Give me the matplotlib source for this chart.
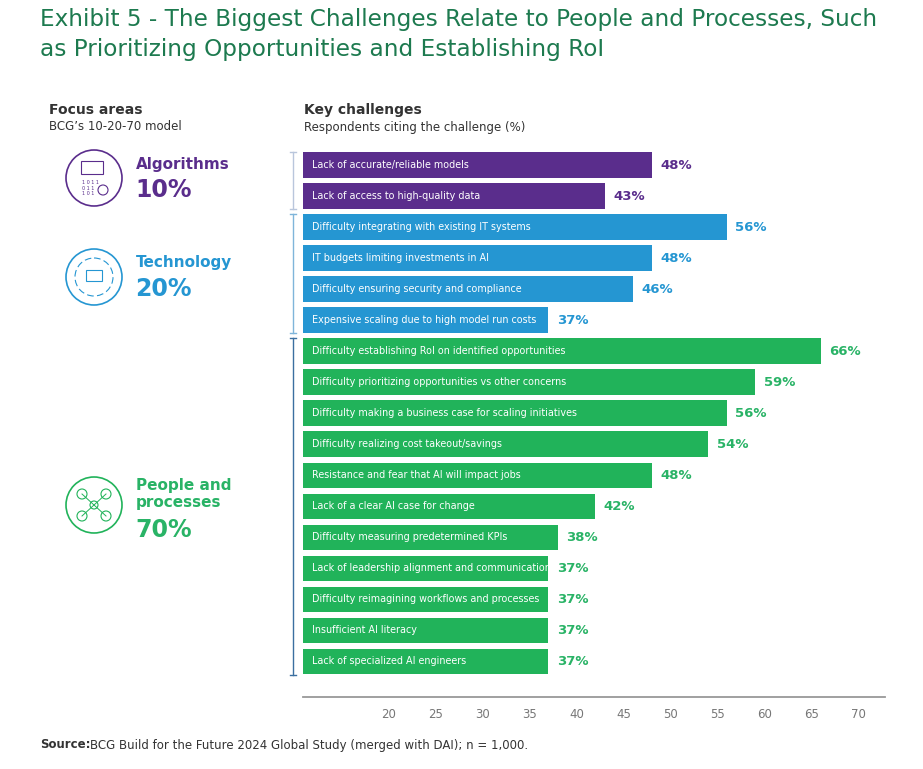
import matplotlib
matplotlib.use("Agg")
import matplotlib.pyplot as plt
from matplotlib.patches import Circle, Rectangle

labels = [
    "Lack of accurate/reliable models", "Lack of access to high-quality data",
    "Difficulty integrating with existing IT systems", "IT budgets limiting investments in AI",
    "Difficulty ensuring security and compliance", "Expensive scaling due to high model run costs",
    "Difficulty establishing RoI on identified opportunities",
    "Difficulty prioritizing opportunities vs other concerns",
    "Difficulty making a business case for scaling initiatives",
    "Difficulty realizing cost takeout/savings",
    "Resistance and fear that AI will impact jobs", "Lack of a clear AI case for change",
    "Difficulty measuring predetermined KPIs",
    "Lack of leadership alignment and communications",
    "Difficulty reimagining workflows and processes", "Insufficient AI literacy",
    "Lack of specialized AI engineers",
]
values = [48, 43, 56, 48, 46, 37, 66, 59, 56, 54, 48, 42, 38, 37, 37, 37, 37]
groups = [0] * 2 + [1] * 4 + [2] * 11
group_names = ["Algorithms", "Technology", "People and\nprocesses"]
group_share = ["10%", "20%", "70%"]

PURPLE, BLUE, GREEN = "#5a2d8c", "#2596d2", "#21b35a"
TXT = ["#5a2d8c", "#2596d2", "#29b366"]
BAR = [PURPLE, BLUE, GREEN]
INK = "#333333"
W, H = 923, 769
XMIN, XMAX = 10.95, 72.8

fig = plt.figure(figsize=(9.23, 7.69), dpi=100)
ax = fig.add_axes([303 / W, 1 - 697 / H, (885 - 303) / W, (697 - 148) / H])

n = len(values)
for i, (lab, v, g) in enumerate(zip(labels, values, groups)):
    ax.barh(i, v - XMIN, left=XMIN, height=0.82, color=BAR[g])
    ax.text(XMIN + 0.95, i, lab, color="white", va="center", ha="left", fontsize=6.9)
    ax.text(v + 0.9, i, f"{v}%", color=TXT[g], va="center", ha="left",
            fontsize=9.5, fontweight="bold")
ax.set_ylim(n + 0.15, -0.55)
ax.set_xlim(XMIN, XMAX)
ax.set_xticks(range(20, 71, 5))
ax.tick_params(axis="x", length=0, colors="#777777", labelsize=8.5, pad=8)
ax.set_yticks([])
for s in ["top", "right", "left"]:
    ax.spines[s].set_visible(False)
ax.spines["bottom"].set_color("#999999")
ax.spines["bottom"].set_linewidth(1.3)

# group brackets
spans = [(0, 1), (2, 5), (6, 16)]
for g, (a, b) in enumerate(spans):
    x = XMIN - 1.05
    col = ["#b9c6dc", "#7fb5da", "#3b6fa0"][g]
    ax.plot([x, x], [a - 0.43, b + 0.43], color=col, lw=1, clip_on=False)
    for yy in (a - 0.43, b + 0.43):
        ax.plot([x - 0.3, x + 0.3], [yy, yy], color=col, lw=1, clip_on=False)

# titles
fig.text(40 / W, 1 - 8 / H, "Exhibit 5 - The Biggest Challenges Relate to People and Processes, Such\n"
         "as Prioritizing Opportunities and Establishing RoI", color="#1d7a4f",
         fontsize=16.7, va="top", ha="left", linespacing=1.4)
fig.text(49 / W, 1 - 110 / H, "Focus areas", fontsize=10, fontweight="bold", color=INK, va="center")
fig.text(49 / W, 1 - 127 / H, "BCG\u2019s 10-20-70 model", fontsize=8.5, color=INK, va="center")
fig.text(304 / W, 1 - 110 / H, "Key challenges", fontsize=10, fontweight="bold", color=INK, va="center")
fig.text(304 / W, 1 - 127 / H, "Respondents citing the challenge (%)", fontsize=8.5, color=INK, va="center")
fig.text(40 / W, 1 - 745 / H, "Source:", fontsize=8.5, color=INK, va="center", fontweight="bold")
fig.text(90 / W, 1 - 745 / H, "BCG Build for the Future 2024 Global Study (merged with DAI); n = 1,000.",
         fontsize=8.5, color=INK, va="center")

# focus area icons and labels
fa = fig.add_axes([0, 0, 1, 1], zorder=-1)
fa.set_xlim(0, W)
fa.set_ylim(H, 0)
fa.axis("off")
centers = [178, 277, 505]
for g, cy in enumerate(centers):
    fa.add_patch(Circle((94, cy), 28, fill=False, ec=BAR[g], lw=1.2))
    if g == 0:
        fa.add_patch(Rectangle((81, 161), 22, 13, fill=False, ec=PURPLE, lw=0.8))
        fa.text(90, 188, "1 0 1 1\n0 1 1  \n1 0 1  ", fontsize=3.5, color=PURPLE, ha="center", va="center")
        fa.add_patch(Circle((103, 190), 5, fill=False, ec=PURPLE, lw=0.8))
    elif g == 1:
        fa.add_patch(Circle((94, cy), 19, fill=False, ec=BLUE, lw=0.8, ls=(0, (6, 3))))
        fa.add_patch(Rectangle((86, cy - 7), 16, 11, fill=False, ec=BLUE, lw=0.8))
    else:
        for dx, dy in [(-12, -11), (12, -11), (-12, 11), (12, 11)]:
            fa.plot([94, 94 + dx], [cy, cy + dy], color=GREEN, lw=0.7)
            fa.add_patch(Circle((94 + dx, cy + dy), 5, fill=False, ec=GREEN, lw=0.8))
        fa.add_patch(Circle((94, cy), 4, fill=False, ec=GREEN, lw=0.8))
    if g < 2:
        fa.text(136, cy - 14, group_names[g], fontsize=11, fontweight="bold", color=TXT[g], va="center")
        fa.text(135, cy + 12, group_share[g], fontsize=17, fontweight="bold", color=TXT[g], va="center")
    else:
        fa.text(136, cy - 11, group_names[g], fontsize=11, fontweight="bold", color=TXT[g], va="center",
                linespacing=1.1)
        fa.text(135, cy + 25, group_share[g], fontsize=17, fontweight="bold", color=TXT[g], va="center")

fig.savefig("out.png", dpi=100)
